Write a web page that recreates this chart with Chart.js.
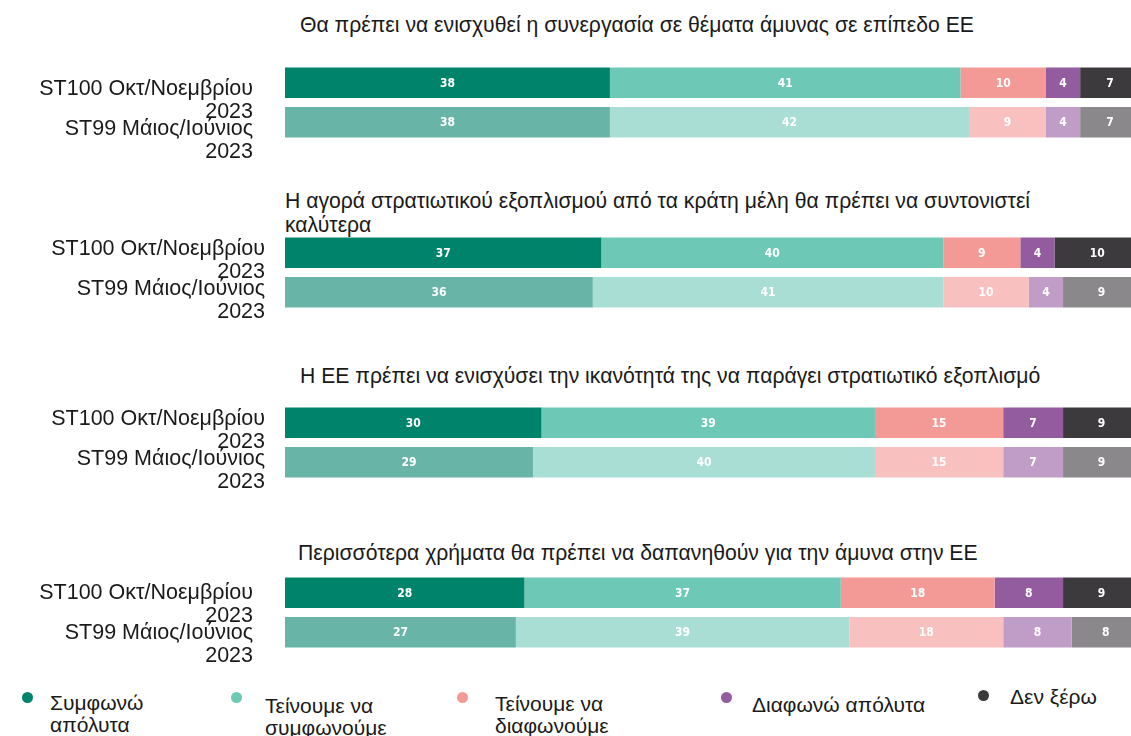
<!DOCTYPE html>
<html lang="el">
<head>
<meta charset="utf-8">
<script src="https://cdn.jsdelivr.net/npm/chart.js@4/dist/chart.umd.min.js"></script>
<style>
  body { margin: 0; width: 1131px; height: 736px; overflow: hidden; background: #fff; position: relative;
         font-family: "Liberation Sans", Arial, sans-serif; color: #1a1a1a; }
  canvas { position: absolute; left: 0; }
  .title { position: absolute; font-size: 21.2px; line-height: 24px; }
  .legend-text { position: absolute; font-size: 21px; line-height: 22px; }
  .dot { position: absolute; width: 11px; height: 11px; border-radius: 50%; }
</style>
</head>
<body>
<script>
const waves = [['ST100 Οκτ/Νοεμβρίου', '2023'], ['ST99 Μάιος/Ιούνιος', '2023']];
const answers = ['Συμφωνώ απόλυτα', 'Τείνουμε να συμφωνούμε', 'Τείνουμε να διαφωνούμε', 'Διαφωνώ απόλυτα', 'Δεν ξέρω'];
const questions = [
    'Θα πρέπει να ενισχυθεί η συνεργασία σε θέματα άμυνας σε επίπεδο ΕΕ',
    'Η αγορά στρατιωτικού εξοπλισμού από τα κράτη μέλη θα πρέπει να συντονιστεί καλύτερα',
    'Η ΕΕ πρέπει να ενισχύσει την ικανότητά της να παράγει στρατιωτικό εξοπλισμό',
    'Περισσότερα χρήματα θα πρέπει να δαπανηθούν για την άμυνα στην ΕΕ'
];

// % ανά απάντηση: ST100 (Οκτ/Νοε 2023) και ST99 (Μάιος/Ιούνιος 2023)
const q1Now  = [38, 41, 10, 4, 7];
const q1Prev = [38, 42, 9, 4, 7];
const q2Now  = [37, 40, 9, 4, 10];
const q2Prev = [36, 41, 10, 4, 9];
const q3Now  = [30, 39, 15, 7, 9];
const q3Prev = [29, 40, 15, 7, 9];
const q4Now  = [28, 37, 18, 8, 9];
const q4Prev = [27, 39, 18, 8, 8];

const colorsNow  = ['#00836b', '#6ec8b6', '#f49a96', '#925c9e', '#3d3a3e'];
const colorsPrev = ['#68b4a6', '#a9ded5', '#f8c1bf', '#c09dc7', '#8a888a'];

const groups = [
    { now: q1Now, prev: q1Prev, top: 63,  titleX: 300, titleY: 13,  labelOffset: 18, pad: 24 },
    { now: q2Now, prev: q2Prev, top: 233, titleX: 285, titleY: 189, labelOffset: 8,  pad: 12 },
    { now: q3Now, prev: q3Prev, top: 403, titleX: 300, titleY: 364, labelOffset: 8,  pad: 12 },
    { now: q4Now, prev: q4Prev, top: 573, titleX: 298, titleY: 541, labelOffset: 12, pad: 24 }
];

// λευκοί αριθμοί στο κέντρο κάθε τμήματος
const barLabels = {
    id: 'barLabels',
    afterDatasetsDraw(chart) {
        const ctx = chart.ctx;
        ctx.save();
        ctx.font = 'bold 12px "DejaVu Sans Condensed", sans-serif';
        ctx.fillStyle = '#fff';
        ctx.textAlign = 'center';
        ctx.textBaseline = 'middle';
        chart.data.datasets.forEach((ds, i) => {
            chart.getDatasetMeta(i).data.forEach((bar, j) => {
                ctx.fillText(ds.data[j], (bar.x + bar.base) / 2, bar.y + 1);
            });
        });
        ctx.restore();
    }
};

groups.forEach((g, k) => {
    const title = document.createElement('div');
    title.className = 'title';
    title.style.left = g.titleX + 'px';
    title.style.top = g.titleY + 'px';
    title.style.width = '790px';
    title.textContent = questions[k];
    document.body.appendChild(title);

    const canvas = document.createElement('canvas');
    canvas.width = 1140;
    canvas.height = 112;
    canvas.style.top = g.top + 'px';
    document.body.appendChild(canvas);

    new Chart(canvas, {
        type: 'bar',
        data: {
            labels: waves,
            datasets: answers.map((a, i) => ({
                label: a,
                data: [g.now[i], g.prev[i]],
                backgroundColor: [colorsNow[i], colorsPrev[i]],
                borderWidth: 0,
                barPercentage: 0.77,
                categoryPercentage: 1
            }))
        },
        plugins: [barLabels],
        options: {
            indexAxis: 'y',
            responsive: false,
            animation: false,
            layout: { padding: { top: 0, bottom: 33, left: 0, right: 0 } },
            plugins: { legend: { display: false }, tooltip: { enabled: false } },
            scales: {
                x: { stacked: true, min: 0, max: 100, display: false },
                y: {
                    stacked: true,
                    grid: { display: false },
                    border: { display: false },
                    ticks: {
                        autoSkip: false,
                        color: '#1a1a1a',
                        font: { family: '"Liberation Sans", Arial, sans-serif', size: 21.5, lineHeight: 1.07 },
                        padding: g.pad,
                        labelOffset: g.labelOffset
                    },
                    afterFit: s => { s.width = 285; s.paddingTop = 0; s.paddingBottom = 0; }
                }
            }
        }
    });
});

// υπόμνημα
const legendPos = [
    { dx: 27, dy: 697, x: 50, y: 692, w: 110 },
    { dx: 236, dy: 697, x: 265, y: 695, w: 130 },
    { dx: 462, dy: 697, x: 495, y: 693, w: 130 },
    { dx: 726, dy: 697, x: 752, y: 694, w: 220 },
    { dx: 983, dy: 695, x: 1010, y: 686, w: 120 }
];
answers.forEach((a, i) => {
    const p = legendPos[i];
    const dot = document.createElement('div');
    dot.className = 'dot';
    dot.style.background = colorsNow[i];
    dot.style.left = (p.dx - 5) + 'px';
    dot.style.top = (p.dy - 5) + 'px';
    document.body.appendChild(dot);

    const t = document.createElement('div');
    t.className = 'legend-text';
    t.style.left = p.x + 'px';
    t.style.top = p.y + 'px';
    t.style.width = p.w + 'px';
    t.textContent = a;
    document.body.appendChild(t);
});
</script>
</body>
</html>
